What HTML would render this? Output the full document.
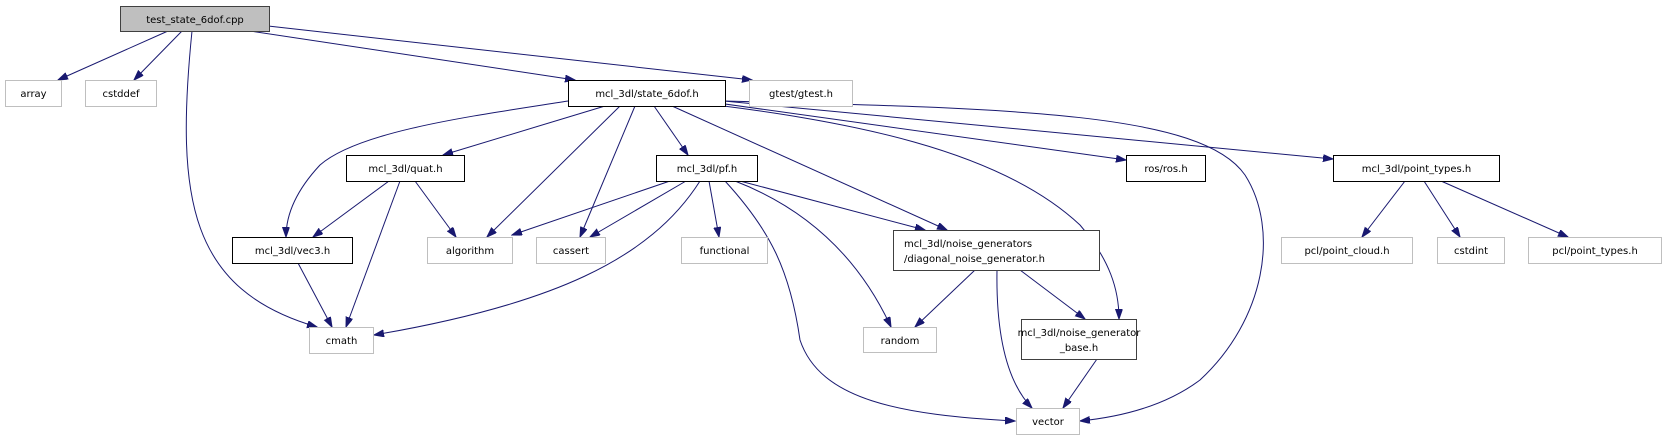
<!DOCTYPE html>
<html><head><meta charset="utf-8"><style>
html,body{margin:0;padding:0;background:#fff;}
svg{display:block;}
text{font-family:"DejaVu Sans","Liberation Sans",sans-serif;font-size:10px;fill:#000;}
</style></head><body>
<svg width="1667" height="440" viewBox="0 0 1667 440" xmlns="http://www.w3.org/2000/svg">
<defs>
<marker id="a" markerUnits="userSpaceOnUse" markerWidth="11" markerHeight="8" refX="10" refY="3.5" orient="auto">
<path d="M0,0 L10,3.5 L0,7 z" fill="#191970" stroke="#191970"/>
</marker>
</defs>
<g fill="none" stroke="#191970" stroke-width="1" marker-end="url(#a)">
<path d="M168,31 L58,80"/>
<path d="M182,31 L134,80"/>
<path d="M192,31 C175,200 190,290 317,327"/>
<path d="M250,31 L575,80"/>
<path d="M268,26 L752,80"/>
<path d="M568,101 C480,115 360,130 320,165 C292,195 286,220 286,237"/>
<path d="M605,106 L443,155"/>
<path d="M620,106 L487,237"/>
<path d="M635,106 L580,237"/>
<path d="M654,106 L688,155"/>
<path d="M672,106 L947,230"/>
<path d="M682,101 C850,120 1000,150 1080,225 C1110,260 1119,290 1119,319"/>
<path d="M682,100 C1000,108 1200,110 1245,175 C1280,230 1265,320 1200,380 C1160,410 1110,418 1080,421"/>
<path d="M682,98 L1126,160"/>
<path d="M682,97 L1333,159"/>
<path d="M389,181 L313,237"/>
<path d="M400,181 L346,327"/>
<path d="M415,181 L456,237"/>
<path d="M298,263 L332,327"/>
<path d="M670,181 L512,235"/>
<path d="M686,181 L590,237"/>
<path d="M700,181 C650,260 550,305 374,335"/>
<path d="M709,181 L719,237"/>
<path d="M725,181 C770,230 790,270 800,340 C820,400 900,415 1015,421"/>
<path d="M735,181 C810,210 860,260 891,327"/>
<path d="M740,181 L925,230"/>
<path d="M975,270 L915,327"/>
<path d="M997,270 C996,330 1005,380 1032,408"/>
<path d="M1020,270 L1085,319"/>
<path d="M1097,359 L1063,408"/>
<path d="M1405,181 L1362,237"/>
<path d="M1424,181 L1460,237"/>
<path d="M1441,181 L1568,237"/>
</g>
<g stroke-width="1">
<rect x="120.5" y="6.5" width="149" height="25" fill="#bfbfbf" stroke="#404040"/>
<rect x="5.5" y="80.5" width="56" height="26" fill="#fff" stroke="#bfbfbf"/>
<rect x="85.5" y="80.5" width="71" height="26" fill="#fff" stroke="#bfbfbf"/>
<rect x="568.5" y="80.5" width="157" height="26" fill="#fff" stroke="#000"/>
<rect x="749.5" y="80.5" width="103" height="26" fill="#fff" stroke="#bfbfbf"/>
<rect x="346.5" y="155.5" width="118" height="26" fill="#fff" stroke="#000"/>
<rect x="656.5" y="155.5" width="101" height="26" fill="#fff" stroke="#000"/>
<rect x="1126.5" y="155.5" width="79" height="26" fill="#fff" stroke="#000"/>
<rect x="1333.5" y="155.5" width="166" height="26" fill="#fff" stroke="#000"/>
<rect x="232.5" y="237.5" width="120" height="26" fill="#fff" stroke="#000"/>
<rect x="427.5" y="237.5" width="85" height="26" fill="#fff" stroke="#bfbfbf"/>
<rect x="536.5" y="237.5" width="69" height="26" fill="#fff" stroke="#bfbfbf"/>
<rect x="681.5" y="237.5" width="86" height="26" fill="#fff" stroke="#bfbfbf"/>
<rect x="893.5" y="230.5" width="206" height="40" fill="#fff" stroke="#404040"/>
<rect x="1281.5" y="237.5" width="131" height="26" fill="#fff" stroke="#bfbfbf"/>
<rect x="1437.5" y="237.5" width="67" height="26" fill="#fff" stroke="#bfbfbf"/>
<rect x="1528.5" y="237.5" width="133" height="26" fill="#fff" stroke="#bfbfbf"/>
<rect x="309.5" y="327.5" width="64" height="26" fill="#fff" stroke="#bfbfbf"/>
<rect x="863.5" y="327.5" width="73" height="25" fill="#fff" stroke="#bfbfbf"/>
<rect x="1021.5" y="319.5" width="115" height="40" fill="#fff" stroke="#404040"/>
<rect x="1016.5" y="408.5" width="63" height="26" fill="#fff" stroke="#bfbfbf"/>
</g>
<g text-anchor="middle">
<text x="195" y="23">test_state_6dof.cpp</text>
<text x="33.5" y="97">array</text>
<text x="121" y="97">cstddef</text>
<text x="647" y="97">mcl_3dl/state_6dof.h</text>
<text x="801" y="97">gtest/gtest.h</text>
<text x="405.5" y="172">mcl_3dl/quat.h</text>
<text x="707" y="172">mcl_3dl/pf.h</text>
<text x="1166" y="172">ros/ros.h</text>
<text x="1416.5" y="172">mcl_3dl/point_types.h</text>
<text x="292.5" y="254">mcl_3dl/vec3.h</text>
<text x="470" y="254">algorithm</text>
<text x="571" y="254">cassert</text>
<text x="724.5" y="254">functional</text>
<text x="1347" y="254">pcl/point_cloud.h</text>
<text x="1471" y="254">cstdint</text>
<text x="1595" y="254">pcl/point_types.h</text>
<text x="341.5" y="344">cmath</text>
<text x="900" y="344">random</text>
<text x="1048" y="425">vector</text>
<text x="1079" y="336">mcl_3dl/noise_generator</text>
<text x="1079" y="351">_base.h</text>
</g>
<text x="904" y="247">mcl_3dl/noise_generators</text>
<text x="904" y="262">/diagonal_noise_generator.h</text>
</svg>
</body></html>
